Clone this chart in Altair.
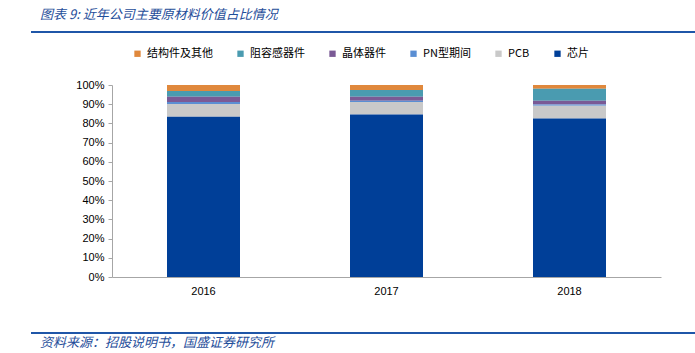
import altair as alt
import pandas as pd

years = ["2016", "2017", "2018"]
series = ["结构件及其他", "阻容感器件", "晶体器件", "PN型期间", "PCB", "芯片"]
colors = ["#E0883C", "#4A9BB0", "#7A5A95", "#5A8ED3", "#C9C9C9", "#003F98"]
values = {
    "芯片": [83.5, 84.7, 82.5],
    "PCB": [6.6, 6.4, 6.7],
    "PN型期间": [1.0, 0.7, 0.7],
    "晶体器件": [2.8, 2.1, 1.9],
    "阻容感器件": [3.0, 3.5, 6.3],
    "结构件及其他": [3.1, 2.6, 1.9],
}
stack_order = ["芯片", "PCB", "PN型期间", "晶体器件", "阻容感器件", "结构件及其他"]

rows = []
for s in series:
    for i, y in enumerate(years):
        rows.append({"year": y, "series": s, "value": values[s][i] / 100.0,
                     "ord": stack_order.index(s)})
df = pd.DataFrame(rows)

W, H = 549, 192
CJK = "Noto Sans CJK SC"
LAT = "Liberation Sans"

bars = alt.Chart(df).mark_bar(size=73).encode(
    x=alt.X("year:N", title=None, sort=years,
            scale=alt.Scale(paddingInner=0.6, paddingOuter=0.3),
            axis=alt.Axis(labelAngle=0, labelFont=LAT, labelFontSize=11, labelColor="#000000",
                          domainColor="#A6A6A6", ticks=False, labelPadding=8)),
    y=alt.Y("value:Q", title=None, stack="zero",
            scale=alt.Scale(domain=[0, 1]),
            axis=alt.Axis(format=".0%", values=[i / 10 for i in range(11)],
                          labelFont=LAT, labelFontSize=11, labelColor="#000000",
                          domainColor="#A6A6A6", tickColor="#A6A6A6", tickSize=4,
                          grid=False, labelPadding=4)),
    color=alt.Color("series:N", sort=series,
                    scale=alt.Scale(domain=series, range=colors),
                    legend=alt.Legend(title=None, orient="none", direction="horizontal",
                                      legendX=20, legendY=-37, symbolType="square",
                                      symbolSize=40, symbolStrokeWidth=0,
                                      labelFont=CJK, labelFontSize=11, labelColor="#000000",
                                      columnPadding=22, symbolOffset=0, labelOffset=4)),
    order=alt.Order("ord:Q", sort="ascending"),
)

title = alt.Chart(pd.DataFrame({"t": ["图表 9:  近年公司主要原材料价值占比情况"]})).mark_text(
    align="left", baseline="middle", font=CJK, fontSize=13, fontStyle="italic",
    color="#1F4E9A"
).encode(text="t:N", x=alt.value(-72), y=alt.value(-70))

source = alt.Chart(pd.DataFrame({"t": ["资料来源：招股说明书，国盛证券研究所"]})).mark_text(
    align="left", baseline="middle", font=CJK, fontSize=13, fontStyle="italic",
    color="#1F4E9A"
).encode(text="t:N", x=alt.value(-72), y=alt.value(258))

top_line = alt.Chart(pd.DataFrame({"a": [0]})).mark_rule(color="#1F56A8", strokeWidth=2).encode(
    x=alt.value(-81), x2=alt.value(583), y=alt.value(-53))
bot_line = alt.Chart(pd.DataFrame({"a": [0]})).mark_rule(color="#1F56A8", strokeWidth=2).encode(
    x=alt.value(-81), x2=alt.value(583), y=alt.value(248))

chart = alt.layer(bars, top_line, bot_line, title, source).properties(
    width=W, height=H,
    autosize=alt.AutoSizeParams(type="none"),
    padding={"left": 112, "top": 85, "right": 34, "bottom": 76},
).configure_view(stroke=None)

chart.save("out.html", embed_options={"renderer": "svg", "actions": False})
